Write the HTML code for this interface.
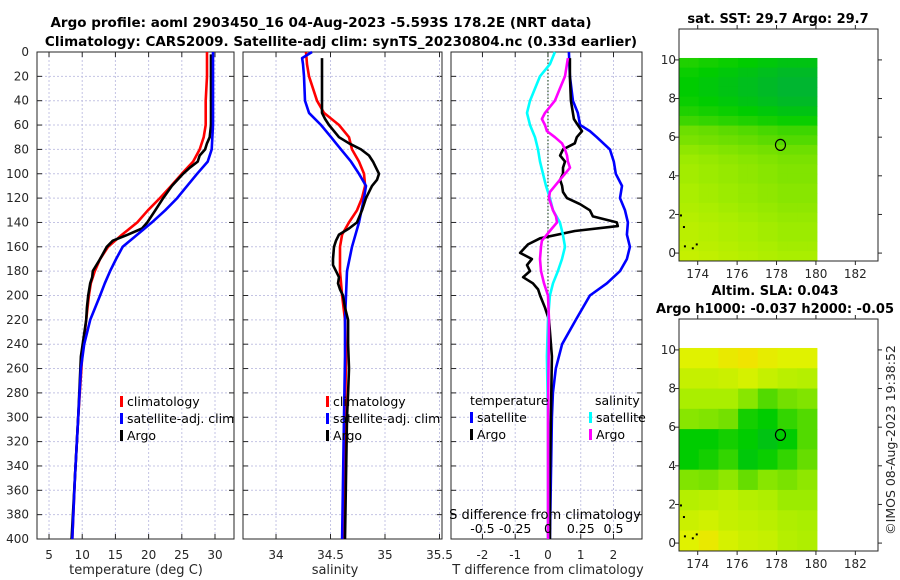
<!DOCTYPE html>
<html><head><meta charset="utf-8"><style>
body{margin:0;background:#fff}
svg{display:block;font-family:"DejaVu Sans","Liberation Sans",sans-serif}
</style></head><body>
<svg id="c" width="900" height="580" viewBox="0 0 900 580"></svg>
<script>
// ---------- data ----------
const depthTicks=[0,20,40,60,80,100,120,140,160,180,200,220,240,260,280,300,320,340,360,380,400];
const tempTicks=[5,10,15,20,25,30];
const salTicks=[34,34.5,35,35.5];
const salTickLabels=["34","34.5","35","35.5"];
const dTTicks=[-2,-1,0,1,2];
const dSTicks=[-0.5,-0.25,0,0.25,0.5];
const dSTickLabels=["-0.5","-0.25","0","0.25","0.5"];

const tempClimDepth=[0,20,40,60,70,80,90,100,110,120,130,140,150,160,170,180,190,200,220,250,300,350,400];
const tempClim=[28.8,28.8,28.6,28.6,28.3,27.7,26.7,25.0,23.4,21.7,19.9,18.3,16.0,13.9,12.7,11.9,11.3,11.0,10.6,10.0,9.4,8.9,8.5];
const tempSatDepth=[0,20,40,60,80,90,100,110,120,130,140,150,160,170,180,190,200,220,240,260,300,350,400];
const tempSat=[29.7,29.7,29.7,29.7,29.5,28.9,27.3,25.8,24.3,22.5,20.5,18.3,16.1,15.1,14.2,13.4,12.7,11.2,10.3,9.8,9.4,8.9,8.5];
const tempArgoDepth=[2,20,40,60,70,75,80,85,90,95,100,110,120,130,140,145,150,155,160,170,180,185,190,200,210,220,250,300,350,400];
const tempArgo=[29.4,29.4,29.4,29.4,29.2,28.8,28.5,27.7,27.4,26.2,25.2,23.5,22.2,21.0,19.8,19.0,16.9,14.6,13.7,12.7,11.6,11.5,11.2,10.9,10.7,10.6,9.8,9.4,8.9,8.4];

const salClimDepth=[0,10,20,40,50,60,70,80,90,100,110,120,130,140,150,160,180,200,220,250,300,400];
const salClim=[34.275,34.284,34.303,34.376,34.44,34.578,34.67,34.697,34.761,34.807,34.817,34.789,34.743,34.67,34.606,34.587,34.587,34.606,34.633,34.642,34.633,34.615];
const salSatDepth=[0,5,10,20,40,50,60,70,75,80,90,100,110,120,140,160,180,200,220,250,300,400];
const salSat=[34.33,34.239,34.248,34.257,34.266,34.303,34.413,34.505,34.55,34.596,34.688,34.761,34.826,34.807,34.761,34.697,34.651,34.642,34.633,34.633,34.624,34.606];
const salArgoDepth=[5,20,40,50,55,60,70,75,80,85,90,95,100,105,110,120,130,140,145,150,155,160,170,175,180,185,190,195,200,210,220,240,260,280,300,350,400];
const salArgo=[34.422,34.422,34.422,34.422,34.45,34.486,34.578,34.67,34.78,34.853,34.89,34.917,34.945,34.927,34.881,34.826,34.789,34.743,34.67,34.578,34.55,34.532,34.523,34.523,34.55,34.578,34.569,34.587,34.615,34.633,34.661,34.661,34.67,34.661,34.651,34.642,34.633];

const dTSatDepth=[0,20,40,50,60,65,70,80,90,100,110,120,130,140,150,160,170,180,190,200,220,240,260,280,300,400];
const dTSat=[0.64,0.67,0.76,0.91,0.98,1.28,1.49,1.89,2.01,2.07,2.26,2.2,2.35,2.44,2.41,2.5,2.41,2.2,1.8,1.28,0.85,0.43,0.24,0.15,0.12,0.06];
const dTArgoDepth=[5,20,40,55,60,65,70,75,80,85,90,95,100,105,110,115,120,125,130,135,140,143,147,153,158,165,170,175,180,185,190,195,200,210,220,250,300,350,400];
const dTArgo=[0.67,0.67,0.7,0.79,0.91,1.04,0.88,0.82,0.46,0.37,0.52,0.46,0.46,0.37,0.43,0.46,0.58,0.98,1.28,1.37,2.1,2.13,0.82,-0.24,-0.61,-0.85,-0.49,-0.64,-0.55,-0.76,-0.46,-0.3,-0.24,-0.09,0.03,0.12,0.09,0.06,0.06];
const dSSatDepth=[0,10,20,30,40,50,60,70,80,90,100,110,120,130,140,150,160,170,180,190,200,220,250,300,400];
const dSSat=[0.053,0.015,-0.061,-0.099,-0.137,-0.16,-0.137,-0.099,-0.076,-0.061,-0.038,-0.015,0.015,0.038,0.091,0.114,0.13,0.107,0.076,0.038,0.015,0,-0.008,0,0];
const dSArgoDepth=[5,20,30,40,50,55,60,65,70,75,80,85,90,95,100,105,110,115,120,125,130,135,140,145,150,155,160,170,180,190,200,220,300,400];
const dSArgo=[0.152,0.13,0.091,0.053,-0.023,-0.046,-0.023,-0.008,0.053,0.107,0.13,0.145,0.152,0.168,0.13,0.091,0.053,0.015,0.008,0.023,0.038,0.061,0.069,0.03,-0.008,-0.046,-0.053,-0.061,-0.053,-0.03,0,0.008,0,0];

const lonTicks=[174,176,178,180,182];
const latTicks=[0,2,4,6,8,10];
const argoLon=178.2, argoLat=5.6;
const sstRows=[1.0,0.8,0.7,0.7,0.8,1.0,1.3,1.8,2.0,2.3,2.5,2.6,2.6,2.7,2.7,2.8,2.9,3.0,3.0,3.1,3.2];
const sstCols=[0.3,0.3,0.2,0.2,0.1,0.1,0,0,-0.1,-0.1,-0.2,-0.2,-0.2,-0.2];
const slaGrid=[
[4,4,4.3,4.5,4.2,4,4],
[3.5,3.5,3.6,3.8,3.5,3.3,3.2],
[3,3,3,2.5,1.8,2.2,2.4],
[2.5,2.4,2.2,1.2,1.0,1.5,1.8],
[1,1,1.2,1,0.8,1,1.8],
[1,1.2,1.5,0.9,1.1,1.5,2],
[2.4,2.3,2.6,2,2.5,2.3,2.6],
[3.2,3.3,3.4,3.2,3.1,2.8,2.8],
[3.6,3.7,3.5,3.4,3.3,3.1,3.0],
[4,4.3,3.8,3.6,3.5,3.2,3.1]];

// ---------- drawing ----------
const svg=document.getElementById('c');
const NS='http://www.w3.org/2000/svg';
function mk(tag,attrs,parent){const e=document.createElementNS(NS,tag);for(const k in attrs)e.setAttribute(k,attrs[k]);(parent||svg).appendChild(e);return e;}
function txt(x,y,s,opt,parent){const e=mk('text',Object.assign({x:x,y:y,'font-size':12,fill:'#262626'},opt||{}),parent);e.textContent=s;return e;}

const Y0=52,Y1=539;
const yD=d=>Y0+(d/400)*(Y1-Y0);
const panels=[
 {name:'temperature',x0:37,x1:234,v0:3.19,v1:32.86},
 {name:'salinity',x0:243,x1:442,v0:33.697,v1:35.523},
 {name:'difference',x0:451,x1:642,v0:-2.96,v1:2.87}
];
function sx(p,v){return p.x0+(v-p.v0)/(p.v1-p.v0)*(p.x1-p.x0);}

let t=txt(321,27,'Argo profile: aoml 2903450_16 04-Aug-2023 -5.593S 178.2E (NRT data)',{'font-size':13.5,'font-weight':'bold','text-anchor':'middle',fill:'#000'});

t=txt(341,46,'Climatology: CARS2009. Satellite-adj clim: synTS_20230804.nc (0.33d earlier)',{'font-size':13.5,'font-weight':'bold','text-anchor':'middle',fill:'#000'});


function frame(p,xticks,labels,gname){
  const g=mk('g',{});
  
  
  depthTicks.forEach(d=>{mk('line',{x1:p.x0,x2:p.x1,y1:yD(d),y2:yD(d),stroke:'#c4c4e4','stroke-width':1,'stroke-dasharray':'2,2'},g);
    mk('line',{x1:p.x0,x2:p.x0+5,y1:yD(d),y2:yD(d),stroke:'#262626'},g);
    mk('line',{x1:p.x1-5,x2:p.x1,y1:yD(d),y2:yD(d),stroke:'#262626'},g);});
  xticks.forEach(v=>{const x=sx(p,v);mk('line',{x1:x,x2:x,y1:Y0,y2:Y1,stroke:'#c4c4e4','stroke-width':1,'stroke-dasharray':'2,2'},g);
    mk('line',{x1:x,x2:x,y1:Y1-5,y2:Y1,stroke:'#262626'},g);mk('line',{x1:x,x2:x,y1:Y0,y2:Y0+5,stroke:'#262626'},g);
  });
  xticks.forEach((v,i)=>{const l=txt(sx(p,v),559,labels[i],{'text-anchor':'middle'},g);
    });
  const r=mk('rect',{x:p.x0,y:Y0,width:p.x1-p.x0,height:Y1-Y0,fill:'none',stroke:'#262626','stroke-width':1},g);
  
  return g;
}
function line(p,depths,vals,color,name,g,scale){
  const pts=depths.map((d,i)=>sx(p,vals[i]*(scale||1)).toFixed(1)+','+yD(d).toFixed(1)).join(' ');
  const e=mk('polyline',{points:pts,fill:'none',stroke:color,'stroke-width':2.6,'stroke-linejoin':'round'},g);
  
  
}
function legend(x,y,items,g){
  items.forEach((it,i)=>{
    if(it.c){const m=mk('rect',{x:x,y:y+i*17-10,width:3,height:11,fill:it.c},g);
      }
    const l=txt(x+(it.c?7:0),y+i*17,it.t,{'font-size':12.5,fill:'#000'},g);
    
  });
}

let g1=frame(panels[0],tempTicks,tempTicks.map(String),'temperature-panel');
depthTicks.forEach(d=>{const l=txt(29,yD(d)+4,String(d),{'text-anchor':'end'},g1);
  });
line(panels[0],tempClimDepth,tempClim,'#ff0000','temp-climatology-line',g1);
line(panels[0],tempArgoDepth,tempArgo,'#000','temp-argo-line',g1);
line(panels[0],tempSatDepth,tempSat,'#0000ff','temp-satellite-line',g1);
legend(120,406,[{c:'#f00',t:'climatology'},{c:'#00f',t:'satellite-adj. clim'},{c:'#000',t:'Argo'}],g1);
t=txt(136,574,'temperature (deg C)',{'text-anchor':'middle','font-size':13},g1);


let g2=frame(panels[1],salTicks,salTickLabels,'salinity-panel');
line(panels[1],salClimDepth,salClim,'#ff0000','sal-climatology-line',g2);
line(panels[1],salSatDepth,salSat,'#0000ff','sal-satellite-line',g2);
line(panels[1],salArgoDepth,salArgo,'#000','sal-argo-line',g2);
legend(326,406,[{c:'#f00',t:'climatology'},{c:'#00f',t:'satellite-adj. clim'},{c:'#000',t:'Argo'}],g2);
t=txt(335,574,'salinity',{'text-anchor':'middle','font-size':13},g2);


let g3=frame(panels[2],dTTicks,dTTicks.map(String),'difference-panel');
let z=mk('line',{x1:sx(panels[2],0),x2:sx(panels[2],0),y1:Y0,y2:Y1,stroke:'#335533','stroke-width':1.2,'stroke-dasharray':'1.5,2'},g3);

line(panels[2],dTSatDepth,dTSat,'#0000ff','dT-satellite-line',g3);
line(panels[2],dTArgoDepth,dTArgo,'#000','dT-argo-line',g3);
line(panels[2],dSSatDepth,dSSat,'#00ffff','dS-satellite-line',g3,4);
line(panels[2],dSArgoDepth,dSArgo,'#ff00ff','dS-argo-line',g3,4);
legend(470,405,[{t:'temperature'},{c:'#00f',t:'satellite'},{c:'#000',t:'Argo'}],g3);
legend(595,405,[{t:'salinity'}],g3);
legend(589,422,[{c:'#0ff',t:'satellite'},{c:'#f0f',t:'Argo'}],g3);
t=txt(545,519,'S difference from climatology',{'text-anchor':'middle','font-size':13,fill:'#000'},g3);

dSTicks.forEach((v,i)=>{const l=txt(sx(panels[2],v*4),533,dSTickLabels[i],{'text-anchor':'middle','font-size':12.5,fill:'#000'},g3);
  });
t=txt(548,574,'T difference from climatology',{'text-anchor':'middle','font-size':13},g3);


const stops=[[0,[0,160,96]],[1,[0,204,0]],[2,[102,221,0]],[3,[170,238,0]],[4,[224,242,0]],[5,[255,213,0]]];
function col(v){v=Math.max(0,Math.min(5,v));const i=Math.min(4,Math.floor(v));const f=v-i;const a=stops[i][1],b=stops[i+1][1];
  return 'rgb('+a.map((c,k)=>Math.round(c+(b[k]-c)*f)).join(',')+')';}

function mapFrame(top,title1,title2,gname){
  const m={x0:679,x1:878,y0:top,y1:top+232,l0:173.05,l1:183.15,t1:11.6,t0:-0.41};
  m.X=lon=>m.x0+(lon-m.l0)/(m.l1-m.l0)*(m.x1-m.x0);
  m.Y=lat=>m.y0+(m.t1-lat)/(m.t1-m.t0)*(m.y1-m.y0);
  const g=mk('g',{});
  m.g=g;
  if(title2){let a=txt(775,top-24,title1,{'font-size':13,'font-weight':'bold','text-anchor':'middle',fill:'#000'},g);
    
    a=txt(775,top-6,title2,{'font-size':13,'font-weight':'bold','text-anchor':'middle',fill:'#000'},g);
    }
  else{let a=txt(778,top-6,title1,{'font-size':13,'font-weight':'bold','text-anchor':'middle',fill:'#000'},g);
    }
  return m;
}
function mapAxes(m){
  const g=m.g;
  lonTicks.forEach(v=>{const x=m.X(v);mk('line',{x1:x,x2:x,y1:m.y0-4,y2:m.y0,stroke:'#262626'},g);mk('line',{x1:x,x2:x,y1:m.y1,y2:m.y1+4,stroke:'#262626'},g);
    const l=txt(x,m.y1+17,String(v),{'text-anchor':'middle'},g);});
  latTicks.forEach(v=>{const y=m.Y(v);mk('line',{x1:m.x0-4,x2:m.x0,y1:y,y2:y,stroke:'#262626'},g);mk('line',{x1:m.x1,x2:m.x1+4,y1:y,y2:y,stroke:'#262626'},g);
    const l=txt(676,y+4,String(v),{'text-anchor':'end'},g);});
  const r=mk('rect',{x:m.x0,y:m.y0,width:m.x1-m.x0,height:m.y1-m.y0,fill:'none',stroke:'#262626'},g);
  
  const c=mk('ellipse',{cx:m.X(argoLon),cy:m.Y(argoLat),rx:5,ry:5.5,fill:'none',stroke:'#000','stroke-width':1.2},g);
  
  [[173.3,0.4],[173.7,0.3],[173.9,0.5],[173.25,1.4],[173.1,2.0]].forEach(p=>{const s=mk('rect',{x:m.X(p[0]),y:m.Y(p[1]),width:2,height:2,fill:'#000'},g);
    });
}
const m1=mapFrame(29,'sat. SST: 29.7 Argo: 29.7',null,'sst-map');
sstRows.forEach((rv,i)=>sstCols.forEach((cv,j)=>{
  const lat=10.1-i*0.5, lon=173.05+j*0.5;
  const x=m1.X(lon),y=m1.Y(lat),w=m1.X(lon+0.5)-x+0.5,h=m1.Y(lat-0.5)-y+0.5;
  const r=mk('rect',{x:x,y:y,width:w,height:h,fill:col(rv+cv)},m1.g);
  
}));
mapAxes(m1);
const m2=mapFrame(319,'Altim. SLA: 0.043','Argo h1000: -0.037 h2000: -0.05','sla-map');
slaGrid.forEach((row,i)=>row.forEach((v,j)=>{
  const lat=10.1-i*1.05, lon=173.05+j;
  const x=m2.X(lon),y=m2.Y(lat),w=m2.X(lon+1)-x+0.5,h=m2.Y(lat-1.05)-y+0.5;
  const r=mk('rect',{x:x,y:y,width:w,height:h,fill:col(v)},m2.g);
  
}));
mapAxes(m2);
t=txt(0,0,'©IMOS 08-Aug-2023 19:38:52',{'font-size':12.5,'text-anchor':'middle',transform:'translate(895,440) rotate(-90)'});

</script>
</body></html>
